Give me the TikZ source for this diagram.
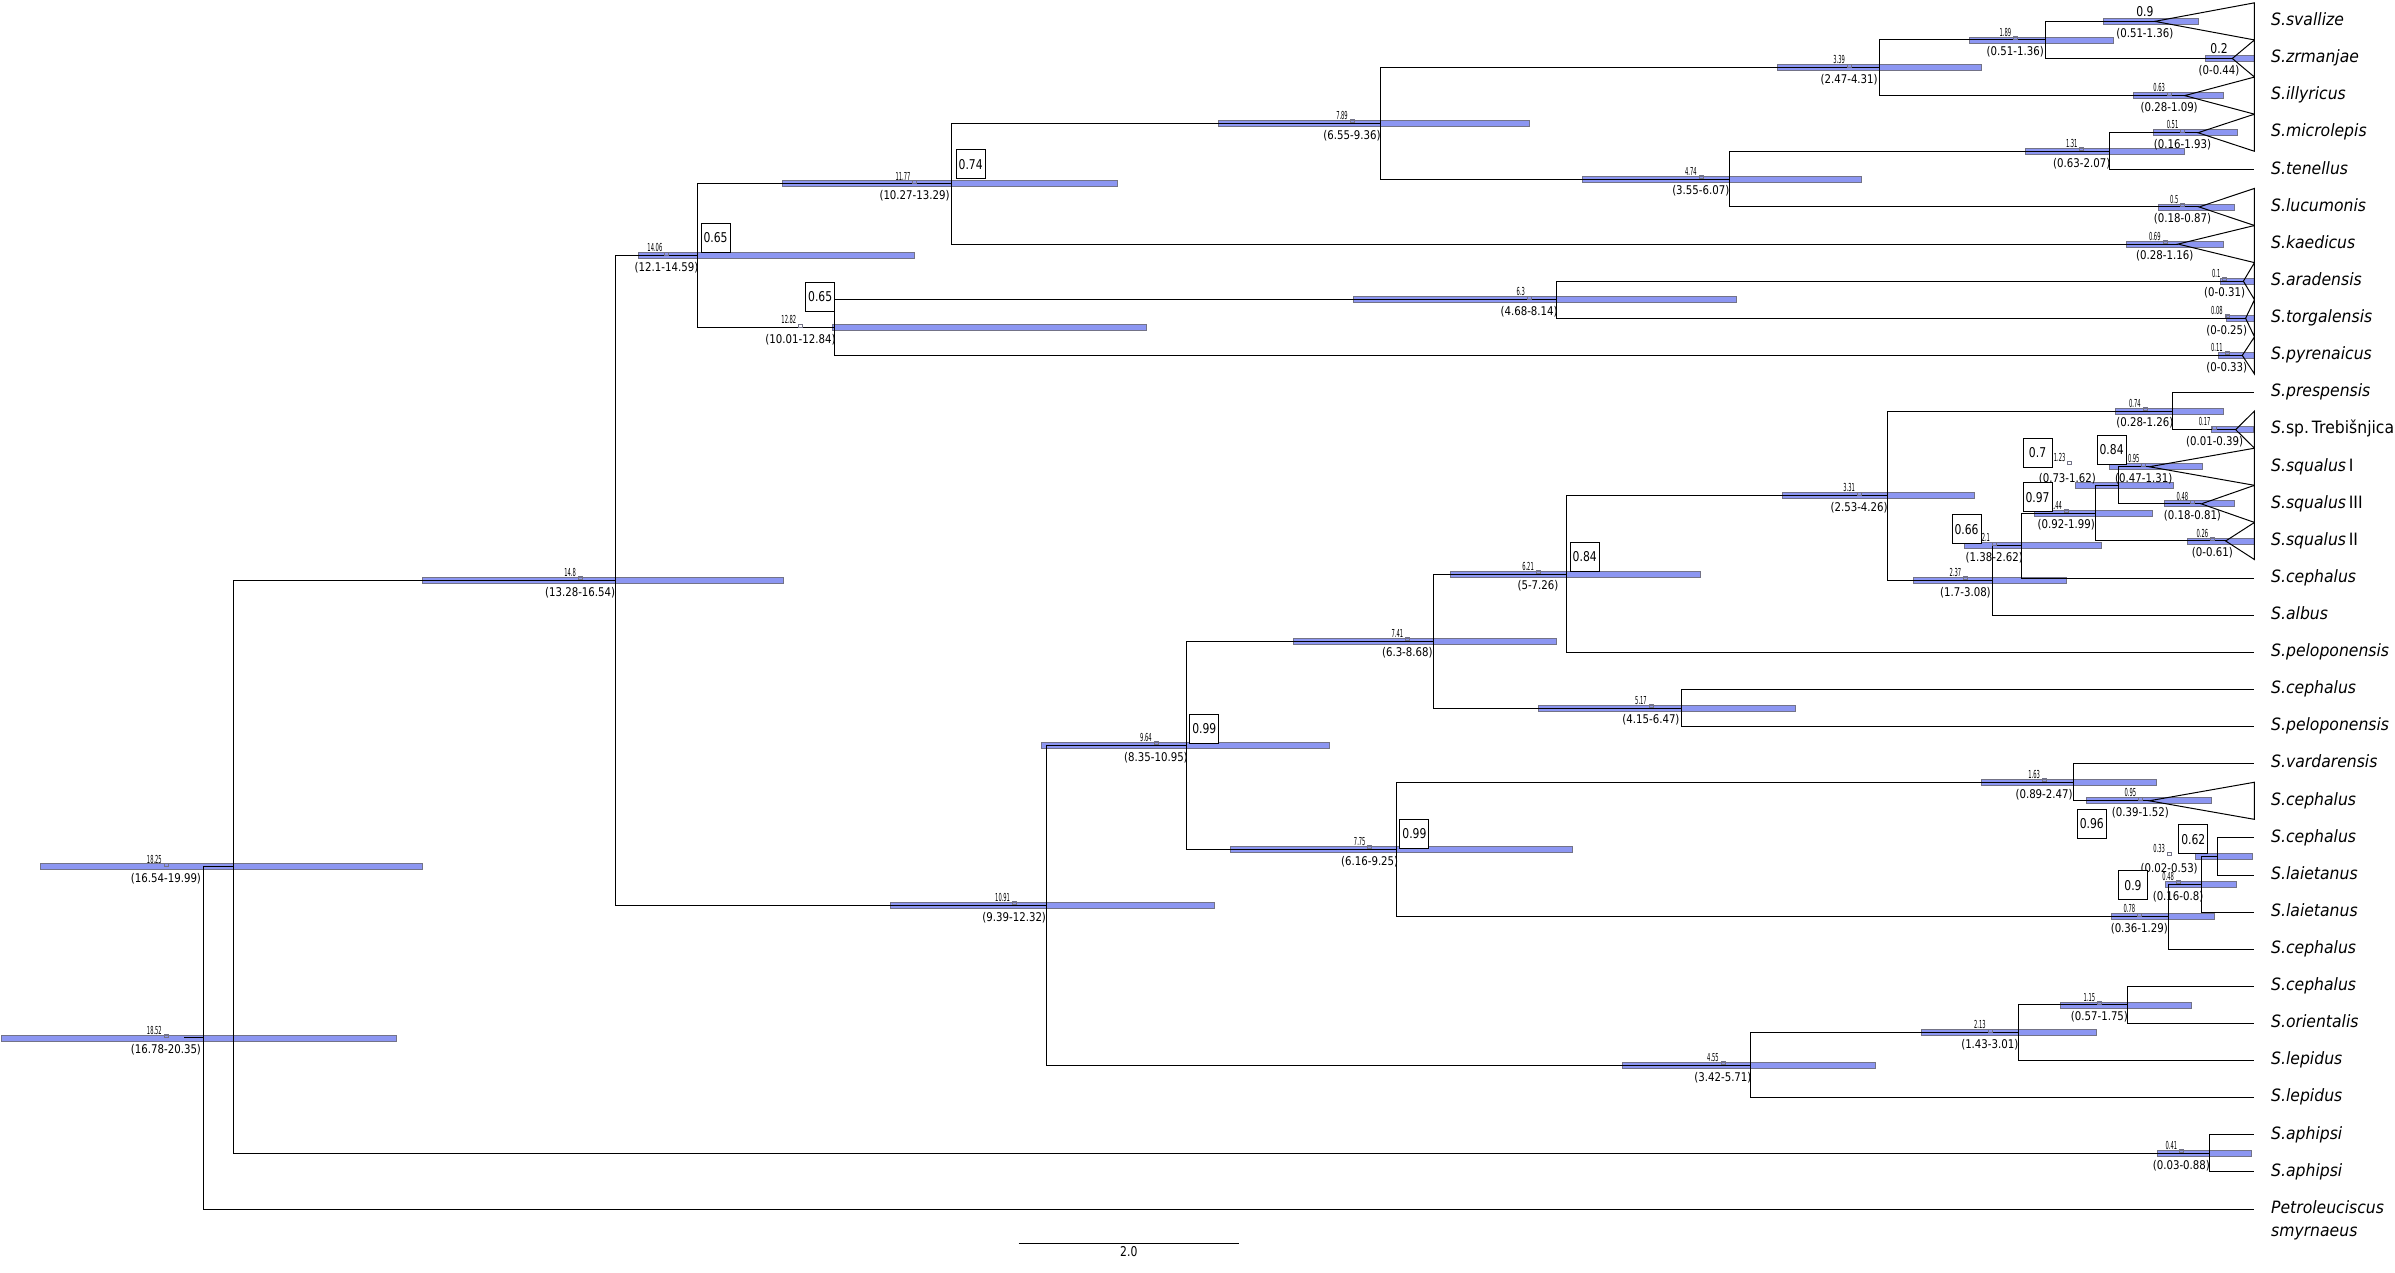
\documentclass[tikz,border=0pt]{standalone}
\usepackage{fontspec}
\setmainfont{DejaVu Sans}
\newfontfamily\taxfont[FakeStretch=0.92]{DejaVu Sans}
\newfontfamily\rngfont[FakeStretch=0.85]{DejaVu Sans}
\newfontfamily\postfont[FakeStretch=0.8]{DejaVu Sans}
\newfontfamily\agefont[FakeStretch=0.47]{DejaVu Sans}
\usetikzlibrary{positioning}
\definecolor{barblue}{RGB}{140,150,242}
\definecolor{bargray}{RGB}{115,115,135}

\def\nodelist{%
  root/18.52/28.39/18.86/16.78/20.35/18.52/16.78-20.35,
  n1825/18.25/23.78/18.86/16.54/19.99/18.25/16.54-19.99,
  n148/14.8/16.063/15.12/13.28/16.54/14.8/13.28-16.54,
  n1406/14.06/7.3125/14.34/12.1/14.59/14.06/12.1-14.59,
  n1177/11.77/5.375/12.1/10.27/13.29/11.77/10.27-13.29,
  n789/7.89/3.75/8.15/6.55/9.36/7.89/6.55-9.36,
  n339/3.39/2.25/3.66/2.47/4.31/3.39/2.47-4.31,
  n189/1.89/1.5/2.16/1.27/2.57/1.89/0.51-1.36,
  n474/4.74/5.25/5.0/3.55/6.07/4.74/3.55-6.07,
  n131/1.31/4.5/1.56/0.63/2.07/1.31/0.63-2.07,
  n1282/12.82/9.25/13.13/10.01/12.84/12.82/10.01-12.84,
  n63/6.3/8.5/6.55/4.68/8.14/6.3/4.68-8.14,
  n1091/10.91/24.814/11.2/9.39/12.32/10.91/9.39-12.32,
  n964/9.64/20.504/9.92/8.35/10.95/9.64/8.35-10.95,
  n741/7.41/17.695/7.65/6.3/8.68/7.41/6.3-8.68,
  n621/6.21/15.891/6.47/5/7.26/6.21/5-7.26,
  n517/5.17/19.5/5.45/4.15/6.47/5.17/4.15-6.47,
  n331/3.31/13.781/3.57/2.53/4.26/3.31/2.53-4.26,
  n074/0.74/11.5/0.99/0.28/1.26/0.74/0.28-1.26,
  n237/2.37/16.063/2.61/1.7/3.08/2.37/1.7-3.08,
  n21/2.1/15.125/2.35/1.38/2.62/2.1/1.38-2.62,
  n144/1.44/14.25/1.7/0.92/1.99/1.44/0.92-1.99,
  n775/7.75/23.313/7.99/6.16/9.25/7.75/6.16-9.25,
  n163/1.63/21.5/1.9/0.89/2.47/1.63/0.89-2.47,
  n078/0.78/25.125/1.04/0.36/1.29/0.78/0.36-1.29,
  n048/0.48/24.25/0.69/0.16/0.8/0.48/0.16-0.8,
  n033/0.33/23.5/0.77/0.02/0.53/0.33/0.02-0.53,
  n455/4.55/29.125/4.8/3.42/5.71/4.55/3.42-5.71,
  n213/2.13/28.25/2.39/1.43/3.01/2.13/1.43-3.01,
  n115/1.15/27.5/1.4/0.57/1.75/1.15/0.57-1.75,
  n041/0.41/31.5/0.66/0.03/0.88/0.41/0.03-0.88}

\def\cladelist{%
  3/0.63/0.77/0.28/1.09/0.63/0.28-1.09,
  4/0.51/0.65/0.15/0.91/0.51/0.16-1.93,
  6/0.5/0.65/0.18/0.87/0.5/0.18-0.87,
  7/0.69/0.81/0.28/1.16/0.69/0.28-1.16,
  8/0.1/0.27/0/0.31/0.1/0-0.31,
  9/0.08/0.25/0/0.25/0.08/0-0.25,
  10/0.11/0.25/0/0.33/0.11/0-0.33,
  12/0.17/0.36/0.01/0.39/0.17/0.01-0.39,
  13/0.95/1.0/0.47/1.31/0.95/0.47-1.31,
  14/0.48/0.56/0.18/0.81/0.48/0.18-0.81,
  15/0.26/0.38/0/0.61/0.26/0-0.61,
  22/0.95/1.03/0.39/1.52/0.95/0.39-1.52}

\begin{document}
\begin{tikzpicture}[x=-110.74pt, y=-37.116pt,
  branch/.style={line width=1pt},
  hpd/.style={fill=barblue, draw=bargray, line width=0.8pt},
  taxon/.style={anchor=west, inner sep=1pt, text height=12pt, text depth=3.5pt,
    font=\taxfont\fontsize{17}{20}\selectfont\itshape},
  rangelab/.style={anchor=north, inner sep=0pt, font=\rngfont\fontsize{12}{14}\selectfont},
  agelab/.style={anchor=south east, inner sep=0pt, font=\agefont\fontsize{11}{13}\selectfont},
  biglab/.style={anchor=south, inner sep=0pt, font=\postfont\fontsize{13.5}{15}\selectfont},
  postbox/.style={draw, fill=white, line width=1pt, minimum size=29pt, inner sep=1pt,
    font=\postfont\fontsize{13.5}{15}\selectfont},
  marktick/.style={draw=bargray, line width=0.5pt}]

\useasboundingbox (20.359,0.424) rectangle (-1.269,34.722);

\foreach \rw/\lab in {1/S.svallize, 2/S.zrmanjae, 3/S.illyricus, 4/S.microlepis,
    5/S.tenellus, 6/S.lucumonis, 7/S.kaedicus, 8/S.aradensis, 9/S.torgalensis,
    10/S.pyrenaicus, 11/S.prespensis, 12/{S.\upshape sp.\,Trebišnjica},
    13/{S.squalus\,\upshape I}, 14/{S.squalus\,\upshape III}, 15/{S.squalus\,\upshape II},
    16/S.cephalus, 17/S.albus, 18/S.peloponensis, 19/S.cephalus, 20/S.peloponensis,
    21/S.vardarensis, 22/S.cephalus, 23/S.cephalus, 24/S.laietanus, 25/S.laietanus,
    26/S.cephalus, 27/S.cephalus, 28/S.orientalis, 29/S.lepidus, 30/S.lepidus,
    31/S.aphipsi, 32/S.aphipsi, 33/Petroleuciscus}
{
  \coordinate (t\rw) at (0,\rw);
  \node[taxon] (l\rw) at ([xshift=15.5pt]t\rw) {\lab};
}
\node[taxon, anchor=base west] (l33b) at ([yshift=-23pt]l33.base west) {smyrnaeus};

\coordinate (c1) at (0.9,1);
\coordinate (c2) at (0.2,2);
\coordinate (n123) at (1.23,13.5);
\draw[hpd] ([yshift=3pt]0.51,1) rectangle ([yshift=-3pt]1.36,1);
\draw[hpd] ([yshift=3pt]0,2) rectangle ([yshift=-3pt]0.44,2);
\draw[hpd] ([yshift=3pt]0.73,13.5) rectangle ([yshift=-3pt]1.62,13.5);
\foreach \nm/\ag/\rw/\mk/\lo/\hi/\lab/\rng in \nodelist
{
  \coordinate (\nm) at (\ag,\rw);
  \draw[hpd] ([yshift=3pt]\lo,\rw) rectangle ([yshift=-3pt]\hi,\rw);
}
\foreach \rw/\ag/\mk/\lo/\hi/\lab/\rng in \cladelist
{
  \coordinate (c\rw) at (\ag,\rw);
  \draw[hpd] ([yshift=3pt]\lo,\rw) rectangle ([yshift=-3pt]\hi,\rw);
}

\draw[branch] (root) -- ++(0.18,0);
\foreach \pa/\ch in {root/n1825, root/t33, n1825/n148, n1825/n041, n041/t31, n041/t32,
    n148/n1406, n148/n1091, n1406/n1177, n1406/n1282, n1177/n789, n1177/c7,
    n789/n339, n789/n474, n339/n189, n339/c3, n189/c1, n189/c2,
    n474/n131, n474/c6, n131/c4, n131/t5, n1282/n63, n1282/c10, n63/c8, n63/c9,
    n1091/n964, n1091/n455, n964/n741, n964/n775, n741/n621, n741/n517,
    n621/n331, n621/t18, n331/n074, n331/n237, n074/t11, n074/c12,
    n237/n21, n237/t17, n21/n144, n21/t16, n144/n123, n144/c15, n123/c13, n123/c14,
    n517/t19, n517/t20, n775/n163, n775/n078, n163/t21, n163/c22,
    n078/n048, n078/t26, n048/n033, n048/t25, n033/t23, n033/t24,
    n455/n213, n455/t30, n213/n115, n213/t29, n115/t27, n115/t28}
  \draw[branch] (\pa) |- (\ch);

\foreach \rw in {1,2,3,4,6,7,8,9,10,12,13,14,15,22}
  \draw[branch] (c\rw) -- (0,\rw-0.5) -- (0,\rw+0.5) -- cycle;

\foreach \nm/\ag/\rw/\mk/\lo/\hi/\lab/\rng in \nodelist
{
  \node[agelab] (a\nm) at ([xshift=-4pt,yshift=3.5pt]\mk,\rw) {\lab};
  \draw[marktick] ([xshift=-2pt,yshift=0.8pt]\mk,\rw) rectangle ([xshift=2pt,yshift=3.8pt]\mk,\rw);
  \node[rangelab] (h\nm) at ([yshift=-6.5pt]\mk,\rw) {(\rng)};
}
\foreach \rw/\ag/\mk/\lo/\hi/\lab/\rng in \cladelist
{
  \node[agelab] (ac\rw) at ([xshift=-4pt,yshift=3.5pt]\mk,\rw) {\lab};
  \draw[marktick] ([xshift=-2pt,yshift=0.8pt]\mk,\rw) rectangle ([xshift=2pt,yshift=3.8pt]\mk,\rw);
  \node[rangelab] (hc\rw) at ([yshift=-6.5pt]\mk,\rw) {(\rng)};
}
\node[agelab] (an123) at ([xshift=-4pt,yshift=23.5pt]1.67,13.5) {1.23};
\draw[marktick] ([xshift=-2pt,yshift=20.8pt]1.67,13.5) rectangle ([xshift=2pt,yshift=23.8pt]1.67,13.5);
\node[rangelab] (hn123) at ([yshift=12pt]1.69,13.5) {(0.73-1.62)};
\node[biglab] (ac1) at ([yshift=4.4pt]0.99,1) {0.9};
\node[rangelab] (hc1) at ([yshift=-6.5pt]0.99,1) {(0.51-1.36)};
\node[biglab] (ac2) at ([yshift=4.4pt]0.32,2) {0.2};
\node[rangelab] (hc2) at ([yshift=-6.5pt]0.32,2) {(0-0.44)};

\foreach \ag/\rw/\pp [count=\i] in {11.593/4.848/0.74, 13.897/6.823/0.65,
    12.952/8.428/0.65, 6.048/15.424/0.84, 9.483/20.053/0.99, 7.586/22.893/0.99,
    1.959/12.626/0.7, 1.29/12.543/0.84, 1.959/13.819/0.97, 2.6/14.683/0.66,
    1.469/22.626/0.96, 0.552/23.037/0.62, 1.097/24.272/0.9}
  \node[postbox] (pb\i) at (\ag,\rw) {\pp};

\coordinate (sb1) at (11.16,33.92);
\coordinate (sb2) at (9.17,33.92);
\draw[branch] (sb1) -- (sb2);
\node[biglab, anchor=north] (sbl) at ([yshift=-3pt]10.165,33.92) {2.0};
\end{tikzpicture}
\end{document}
